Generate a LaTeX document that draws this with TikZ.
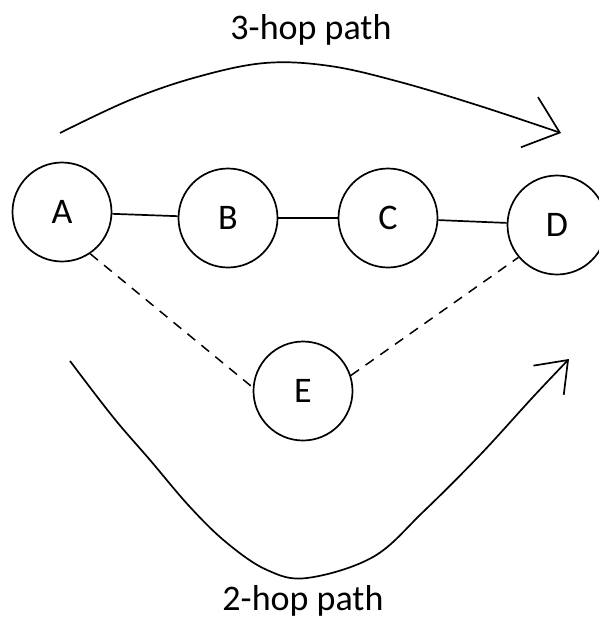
\documentclass[tikz,border=0pt]{standalone}
\usepackage{fontspec}
\setmainfont{Carlito}
\usetikzlibrary{arrows.meta}
\tikzset{
  station/.style={circle, draw, line width=1.7pt, minimum size=99pt, inner sep=0pt,
                  font=\fontsize{36}{40}\selectfont},
  link/.style={line width=1.7pt},
  dlink/.style={line width=1.5pt, dash pattern=on 10pt off 8pt},
  hoptop/.style={line width=1.7pt, -{Straight Barb[length=32pt, width=53pt, line width=1.7pt]}},
  hopbot/.style={line width=1.7pt, -{Straight Barb[length=28pt, width=42pt, line width=1.7pt]}},
  caption/.style={font=\fontsize{36}{40}\selectfont, inner sep=0pt}
}
\begin{document}
\begin{tikzpicture}[x=1pt,y=-1pt]
\useasboundingbox (0,0) rectangle (599,621);

% stations
\node[station] (A) at (62,212) {A};
\node[station] (B) at (228,218) {B};
\node[station] (C) at (388,218) {C};
\node[station] (D) at (557,225) {D};
\node[station] (E) at (303,391) {E};

% direct chain
\draw[link] (A) -- (B);
\draw[link] (B) -- (C);
\draw[link] (C) -- (D);

% shortcut through E
\draw[dlink] (A.-56) -- (E.176);
\draw[dlink] (E.18) -- (D.220);

% path arrows
\draw[hoptop] plot[smooth, tension=0.6] coordinates
  {(60,133) (130,100) (197,77) (265,63) (330,66) (400,82) (480,106) (561,133)};
\draw[hopbot] plot[smooth, tension=0.6] coordinates
  {(70,361) (113,417) (150,460) (190,507) (227,543) (267,570) (307,578)
   (373,557) (423,512) (480,455) (533,397) (569,359)};

% captions
\node[caption, anchor=base] (top) at (311,39) {3-hop path};
\node[caption, anchor=base] (bottom) at (303,610) {2-hop path};
\end{tikzpicture}
\end{document}
